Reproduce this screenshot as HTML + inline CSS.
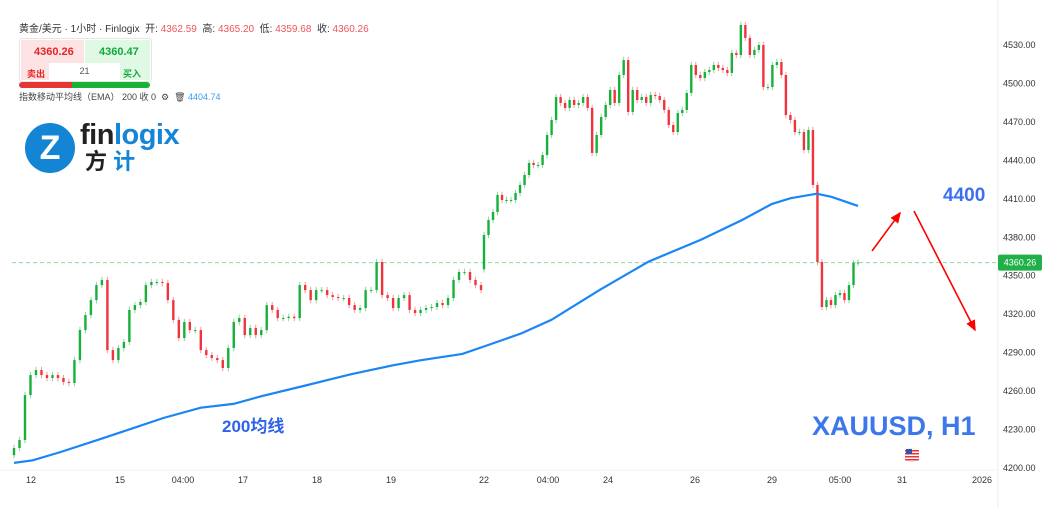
<!DOCTYPE html>
<html><head><meta charset="utf-8"><style>
body{margin:0;width:1045px;height:508px;background:#fff;overflow:hidden;font-family:"Liberation Sans","Noto Sans CJK SC",sans-serif}
svg{position:absolute;left:0;top:0}
.hdr{position:absolute;left:19px;top:20px;font-size:10px;color:#333;white-space:nowrap}
.hdr .r{color:#f0545a}
</style></head><body>
<svg id="chart" width="1045" height="508"></svg>
<div class="hdr">黄金/美元 · 1小时 · Finlogix &nbsp;开: <span class="r">4362.59</span> &nbsp;高: <span class="r">4365.20</span> &nbsp;低: <span class="r">4359.68</span> &nbsp;收: <span class="r">4360.26</span></div>
<div style="position:absolute;left:19px;top:38px;width:131px;height:42px;border:1px solid #e6e6e6;border-radius:3px;font-size:10px">
 <div style="position:absolute;left:1px;top:1px;width:63px;height:40px;background:#fde3e3;color:#e52525;font-weight:bold"><div style="position:absolute;left:13px;top:6px;font-size:11px">4360.26</div><div style="position:absolute;left:6px;top:27px;font-size:9px">卖出</div></div>
 <div style="position:absolute;left:65px;top:1px;width:65px;height:40px;background:#dff9e4;color:#12a83a;font-weight:bold"><div style="position:absolute;left:14px;top:6px;font-size:11px">4360.47</div><div style="position:absolute;left:38px;top:27px;font-size:9px">买入</div></div>
 <div style="position:absolute;left:29px;top:24px;width:71px;height:17px;background:#fff;color:#555;text-align:center;line-height:17px;font-size:9px">21</div>
</div>
<div style="position:absolute;left:19px;top:82px;width:131px;height:6px;border-radius:3px;overflow:hidden"><div style="float:left;width:53px;height:6px;background:#e53535"></div><div style="float:left;width:78px;height:6px;background:#16b335"></div></div>
<div style="position:absolute;left:19px;top:90px;font-size:9px;color:#444;white-space:nowrap">指数移动平均线（EMA） 200 收 0 &nbsp;⚙ &nbsp;🗑 <span style="color:#3a9cf0">4404.74</span></div>
<div style="position:absolute;left:25px;top:123px;width:170px;height:60px;white-space:nowrap">
 <div style="position:absolute;left:0;top:0;width:50px;height:50px;border-radius:50%;background:#1385d4;color:#fff;font-weight:bold;font-size:34px;text-align:center;line-height:50px">Z</div>
 <div style="position:absolute;left:55px;top:-4px;font-size:29px;font-weight:bold;letter-spacing:-0.5px"><span style="color:#222">fin</span><span style="color:#1485d8">logix</span></div>
 <div style="position:absolute;left:60px;top:26px;font-size:22px;font-weight:bold;color:#222;white-space:nowrap;line-height:26px">方 <span style="color:#1485d8">计</span></div>
</div>
<script>
const yTicks=[4530,4500,4470,4440,4410,4380,4350,4320,4290,4260,4230,4200];
const xLabels=["12","15","04:00","17","18","19","22","04:00","24","26","29","05:00","31","2026"];
const xLabelPos=[31,120,183,243,317,391,484,548,608,695,772,840,902,982];
const week1=[4215.6,4221.8,4256.9,4272.5,4276.4,4272.5,4270.2,4272.5,4270.2,4267.1,4266.3,4284.2,4307.6,4319.3,4331.0,4342.7,4346.7,4292.0,4284.2,4293.6,4298.3,4323.3,4327.1,4329.5,4342.7,4345.1,4345.1,4344.3,4331.0,4315.5,4301.4,4313.9,4307.6,4307.6,4292.0,4288.1,4285.8,4284.2,4278.0,4293.6,4313.9,4317.0,4303.7,4309.2,4303.7,4307.6,4327.1,4323.3,4317.0,4317.0,4318,4317,4342.7,4338.8,4331.0,4338.8,4338.8,4334.9,4333.4,4332.6,4332.6,4327.1,4323.3,4324.8,4338.8,4338.8,4360.7,4334.9,4332.6,4324.8,4332.6,4334.9,4323.3,4320.9,4323.3,4324.8,4325.6,4328.7,4327.1,4332.6,4346.7,4352.9,4352.9,4346.7,4342.7,4338.8];
const week2=[4381.8,4393.5,4399.7,4413.0,4409.1,4409.1,4409.1,4414.6,4420.8,4428.6,4438.0,4436.4,4436.4,4444.2,4459.8,4471.5,4489.4,4484.8,4480.9,4487.1,4483.2,4484.8,4489.4,4480.9,4445.8,4459.8,4473.8,4483.2,4494.9,4484.8,4506.6,4518.3,4477.7,4494.9,4487.1,4489.4,4484.8,4491.0,4490.2,4487.1,4479.3,4467.6,4462.1,4476.9,4479.3,4492.6,4514.4,4506.6,4504.3,4508.9,4510.5,4514.4,4512.1,4510.5,4508.2,4523.8,4522.2,4545.6,4535.5,4522.2,4526.1,4530,4497.2,4497.2,4514.4,4516.7,4506.6,4475.4,4471.5,4462.1,4462.1,4448.1,4463.7,4420.8,4360.7,4325.6,4331.0,4327.1,4334.9,4336.5,4331.0,4342.7,4359.9,4360.3];
const emaVals=[4204,4206,4212.5,4222,4228,4239,4247,4250,4256,4264,4273,4280,4284,4289,4294,4305,4315.5,4339,4361,4378,4393.5,4406,4410.5,4414,4411.5,4404.5];
const emaTime=[0,0.04,0.1,0.18,0.23,0.32,0.4,0.47,0.53,0.62,0.72,0.81,0.87,0.96,1.0,1.1,1.18,1.31,1.44,1.58,1.69,1.77,1.82,1.89,1.93,2.0];
const lastPrice=4360.26;
const NS="http://www.w3.org/2000/svg";
const svg=document.getElementById('chart');
function y(p){return 45+(4530-p)*1.2818;}
function xw(seg,t){return seg===0?14+t*(481-14):484+t*(858-484);}
function xEma(t){return t<=1?xw(0,t):xw(1,t-1);}
function mk(tag,attrs){const e=document.createElementNS(NS,tag);for(const k in attrs)e.setAttribute(k,attrs[k]);svg.appendChild(e);return e;}
let ax=mk('line',{x1:998,y1:0,x2:998,y2:508,stroke:'#eee'});


let bx=mk('line',{x1:0,y1:470,x2:998,y2:470,stroke:'#f0f0f0'});


yTicks.forEach(v=>{const t=mk('text',{x:1003,y:y(v)+3,'font-size':9,fill:'#333'});t.textContent=v.toFixed(2);

});
xLabels.forEach((l,i)=>{const t=mk('text',{x:xLabelPos[i],y:483,'font-size':9,fill:'#333','text-anchor':'middle'});t.textContent=l;

});
let pl=mk('line',{x1:12,y1:y(lastPrice),x2:998,y2:y(lastPrice),stroke:'#8fdc9f','stroke-dasharray':'4,3','stroke-width':1});


let pb=mk('rect',{x:998,y:y(lastPrice)-8,width:44,height:16,rx:2,fill:'#1fb04a'});


let pt=mk('text',{x:1020,y:y(lastPrice)+3,'font-size':9,fill:'#fff','text-anchor':'middle'});pt.textContent=lastPrice.toFixed(2);


function drawSeg(arr,seg,prevInit){let prev=prevInit;arr.forEach((c,i)=>{const o=prev;prev=c;const x=xw(seg,arr.length>1?i/(arr.length-1):0);
const up=c>=o;const col=up?'#17b03a':'#f0333d';const hi=Math.max(o,c)+2.5,lo=Math.min(o,c)-2.5;
const w=mk('line',{x1:x,y1:y(hi),x2:x,y2:y(lo),stroke:col,'stroke-opacity':0.5,'stroke-width':1});


const b=mk('rect',{x:x-1.2,y:y(Math.max(o,c)),width:2.4,height:Math.max(1,Math.abs(y(o)-y(c))),fill:col});

});}
drawSeg(week1,0,4210);
drawSeg(week2,1,4355);
let d=emaVals.map((v,i)=>(i?'L':'M')+xEma(emaTime[i]).toFixed(1)+','+y(v).toFixed(1)).join(' ');
let em=mk('path',{d:d,fill:'none',stroke:'#1a86f5','stroke-width':2.2});


let defs=mk('defs',{});defs.innerHTML='<marker id="ah" markerWidth="8" markerHeight="8" refX="6" refY="3" orient="auto"><path d="M0,0 L7,3 L0,6z" fill="#f00"/></marker>';
let a1=mk('line',{x1:872,y1:251,x2:900,y2:213,stroke:'#f00','stroke-width':1.6,'marker-end':'url(#ah)'});


let a2=mk('line',{x1:914,y1:211,x2:975,y2:330,stroke:'#f00','stroke-width':1.6,'marker-end':'url(#ah)'});


let t1=mk('text',{x:943,y:201,'font-size':19,'font-weight':'bold',fill:'#3d6ff0'});t1.textContent='4400';


let t2=mk('text',{x:812,y:435,'font-size':27,'font-weight':'bold',fill:'#3d78ea'});t2.textContent='XAUUSD, H1';


let t3=mk('text',{x:222,y:432,'font-size':17,'font-weight':'bold',fill:'#2f62ea'});t3.textContent='200均线';


let fl=mk('circle',{cx:912,cy:455,r:7,fill:'#fff',stroke:'#ddd','stroke-width':0.5});


[450,453,456,459].forEach(sy=>{const s=mk('rect',{x:905,y:sy,width:14,height:1.5,fill:'#e33'});

});
let fl2=mk('rect',{x:906,y:449,width:6,height:5,fill:'#3552a8'});


</script>
</body></html>
